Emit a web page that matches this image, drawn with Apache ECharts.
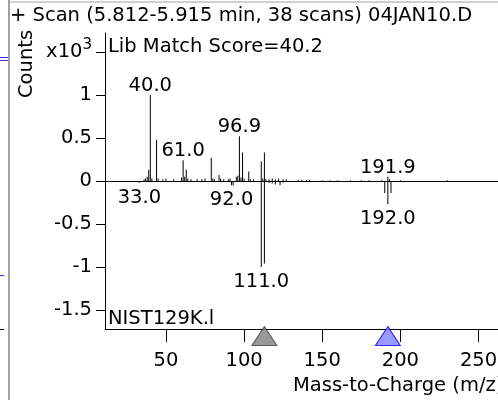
<!DOCTYPE html>
<html>
<head>
<meta charset="utf-8">
<script src="https://cdn.jsdelivr.net/npm/echarts@6/dist/echarts.min.js"></script>
<style>
  html, body { margin: 0; padding: 0; background: #fff; overflow: hidden; }
  #chart { width: 560px; height: 400px; }
</style>
</head>
<body>
<div id="chart"></div>
<script>
// Head-to-tail mass spectrum: acquired scan on top, NIST library hit below.
// Intensities in thousands of counts (x10^3).

const FONT = 'DejaVu Sans';
const FS = 19.5;

// sample scan sticks [m/z, counts x10^3]
const scanMz  = [36, 37, 38, 39, 40, 41, 44, 45, 48, 50, 55, 60, 61, 62, 63, 64, 66, 70, 73, 75,
                 79, 80, 81, 84, 85, 87, 90, 91, 95, 96, 97, 98, 99, 100, 103, 104, 106, 111, 112,
                 113, 114, 116, 118, 120, 122, 125, 127, 135, 137, 140, 142, 150, 155, 160, 168,
                 175, 180, 188, 192, 193, 200, 230];
const scanVal = [0.02, 0.03, 0.05, 0.13, 1.0, 0.03, 0.48, 0.03, 0.02, 0.03, 0.02, 0.04, 0.24, 0.05,
                 0.13, 0.03, 0.02, 0.02, 0.02, 0.03, 0.27, 0.03, 0.02, 0.07, 0.03, 0.02, 0.02, 0.03,
                 0.05, 0.06, 0.52, 0.04, 0.33, 0.03, 0.11, 0.02, 0.02, 0.23, 0.03, 0.33, 0.02, 0.02,
                 0.03, 0.02, 0.03, 0.02, 0.02, 0.015, 0.015, 0.015, 0.015, 0.01, 0.01, 0.01, 0.01,
                 0.01, 0.01, 0.01, 0.05, 0.02, 0.01, 0.01];

// library sticks (drawn downwards)
const libMz  = [33, 92, 93, 111, 113, 116, 118, 120, 123, 125, 190, 192, 194];
const libVal = [-0.02, -0.05, -0.05, -1.0, -0.96, -0.02, -0.03, -0.04, -0.05, -0.02, -0.14, -0.27, -0.14];

// annotated peaks
const scanLabels = { 40: '40.0', 61: '61.0', 97: '96.9', 192: '191.9' };
const libLabels  = { 33: '33.0', 92: '92.0', 111: '111.0', 192: '192.0' };

// precursor / marker triangles
const markerGray = [113];
const markerBlue = [192];

const xTicks = [50, 100, 150, 200, 250];
const yTicks = [-1.5, -1, -0.5, 0, 0.5, 1, 1.5];
const X_MIN = 11, X_MAX = 290, Y_MIN = -1.72, Y_MAX = 1.72;

function sticks(mz, val, labels, pos) {
  return mz.map((m, i) => {
    const item = { value: [m, val[i]] };
    if (labels[m]) item.label = { show: true, formatter: labels[m], position: pos, distance: pos === 'top' ? -1 : 5 };
    return item;
  });
}

const chart = echarts.init(document.getElementById('chart'));

const txt = { fontFamily: FONT, fontSize: FS, fill: '#000' };

chart.setOption({
  animation: false,
  textStyle: { fontFamily: FONT },
  grid: { left: 105, top: 33, width: 436, height: 296, containLabel: false },
  xAxis: {
    type: 'value', min: X_MIN, max: X_MAX,
    axisLine: { onZero: false, lineStyle: { color: '#000', width: 1 } },
    axisTick: { show: true, length: 13, customValues: xTicks, lineStyle: { color: '#000' } },
    axisLabel: { customValues: xTicks, margin: 22, color: '#000', fontSize: FS, fontFamily: FONT },
    splitLine: { show: false }
  },
  yAxis: {
    type: 'value', min: Y_MIN, max: Y_MAX,
    axisLine: { show: true, lineStyle: { color: '#000', width: 1 } },
    axisTick: { show: true, length: 9, customValues: yTicks, lineStyle: { color: '#000' } },
    axisLabel: {
      customValues: yTicks, margin: 13, color: '#000', fontSize: FS, fontFamily: FONT,
      formatter: v => v === 1.5 ? 'x10{s|3}' : String(v),
      rich: { s: { fontSize: 15, fontFamily: FONT, color: '#000', padding: [0, 0, 14, 0] } }
    },
    splitLine: { show: false }
  },
  series: [
    {
      type: 'bar', barWidth: 1, barGap: '-100%',
      itemStyle: { color: '#000' },
      label: { color: '#000', fontSize: FS, fontFamily: FONT },
      data: sticks(scanMz, scanVal, scanLabels, 'top'),
      markLine: {
        silent: true, symbol: 'none', label: { show: false },
        lineStyle: { color: '#000', width: 1, type: 'solid' },
        data: [{ yAxis: 0 }]
      }
    },
    {
      type: 'bar', barWidth: 1, barGap: '-100%',
      itemStyle: { color: '#000' },
      label: { color: '#000', fontSize: FS, fontFamily: FONT },
      data: sticks(libMz, libVal, libLabels, 'bottom')
    },
    {
      type: 'scatter', symbol: 'triangle', symbolSize: [25, 19], symbolOffset: [0, 7], clip: false,
      itemStyle: { color: '#808080', borderColor: '#404040', borderWidth: 1 },
      data: markerGray.map(m => [m, Y_MIN]), z: 5
    },
    {
      type: 'scatter', symbol: 'triangle', symbolSize: [25, 19], symbolOffset: [0, 7], clip: false,
      itemStyle: { color: '#8080ff', borderColor: '#0000ff', borderWidth: 1 },
      data: markerBlue.map(m => [m, Y_MIN]), z: 5
    }
  ],
  graphic: [
    { type: 'text', left: 10, top: 6, style: { ...txt, text: '+ Scan (5.812-5.915 min, 38 scans) 04JAN10.D' } },
    { type: 'text', left: 108, top: 37, style: { ...txt, text: 'Lib Match Score=40.2' } },
    { type: 'text', left: 108, top: 309, style: { ...txt, text: 'NIST129K.l' } },
    { type: 'text', left: 293, top: 376, style: { ...txt, text: 'Mass-to-Charge (m/z)' } },
    { type: 'text', x: 17, y: 98, rotation: Math.PI / 2, style: { ...txt, text: 'Counts' } },
    // neighbouring panel edges
    { type: 'line', shape: { x1: 9, y1: 0, x2: 9, y2: 400 }, style: { stroke: '#a0a0a0', lineWidth: 2 } },
    { type: 'line', shape: { x1: 9, y1: 2, x2: 560, y2: 2 }, style: { stroke: '#a0a0a0', lineWidth: 1 } },
    { type: 'line', shape: { x1: 0, y1: 57.5, x2: 8, y2: 57.5 }, style: { stroke: '#3030ff', lineWidth: 1 } },
    { type: 'line', shape: { x1: 0, y1: 60.5, x2: 8, y2: 60.5 }, style: { stroke: '#3030ff', lineWidth: 1 } },
    { type: 'line', shape: { x1: 0, y1: 275.5, x2: 4, y2: 275.5 }, style: { stroke: '#3030ff', lineWidth: 1 } },
    { type: 'line', shape: { x1: 0, y1: 329.5, x2: 4, y2: 329.5 }, style: { stroke: '#000', lineWidth: 1 } },
    { type: 'text', left: -6, top: 376, style: { ...txt, text: ')' } }
  ]
});
</script>
</body>
</html>
